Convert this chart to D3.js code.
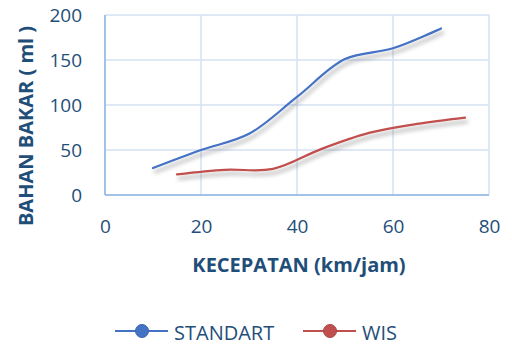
<!DOCTYPE html>
<html>
<head>
<meta charset="utf-8">
<script src="https://cdn.jsdelivr.net/npm/d3@7"></script>
<style>
  html, body { margin: 0; padding: 0; background: #fff; }
  svg { display: block; }
</style>
</head>
<body>
<div id="chart"></div>
<script>
// Fuel consumption (ml) against speed (km/h) for two configurations
const standartSpeed = [10, 20, 30, 40, 50, 60, 70];
const standartFuel  = [30, 50, 68, 109, 151, 163, 185];
const wisSpeed = [15, 25, 35, 45, 55, 65, 75];
const wisFuel  = [23, 28, 29, 51, 69, 79, 86];
const xTicks = [0, 20, 40, 60, 80];
const yTicks = [0, 50, 100, 150, 200];
const seriesNames = ["STANDART", "WIS"];
const seriesColors = ["#4472C4", "#C0504D"];
const markerStroke = ["#3A64AE", "#A94542"];

const W = 512, H = 345;
const plot = { left: 105, right: 489, top: 15, bottom: 195 };
const textColor = "#1F4E79";
const font = "'Open Sans', 'Noto Sans', sans-serif";

const svg = d3.select("#chart").append("svg")
  .attr("width", W).attr("height", H);

// soft drop shadow under the data lines
const defs = svg.append("defs");
const f = defs.append("filter").attr("id", "shadow")
  .attr("x", "-10%").attr("y", "-20%").attr("width", "130%").attr("height", "160%");
f.append("feDropShadow").attr("dx", 2).attr("dy", 4).attr("stdDeviation", 2.2)
  .attr("flood-color", "#000").attr("flood-opacity", 0.35);

const x = d3.scaleLinear().domain([0, 80]).range([plot.left, plot.right]);
const y = d3.scaleLinear().domain([0, 200]).range([plot.bottom, plot.top]);

// gridlines
const grid = svg.append("g");
grid.selectAll("line.h").data(yTicks).join("line")
  .attr("x1", plot.left).attr("x2", plot.right)
  .attr("y1", d => y(d)).attr("y2", d => y(d))
  .attr("stroke", "#D5E2F3").attr("stroke-width", 1.5);
grid.selectAll("line.v").data(xTicks).join("line")
  .attr("y1", plot.top).attr("y2", plot.bottom)
  .attr("x1", d => x(d)).attr("x2", d => x(d))
  .attr("stroke", "#D5E2F3").attr("stroke-width", 1.5);

// axis lines
svg.append("line").attr("x1", plot.left).attr("x2", plot.left)
  .attr("y1", plot.top).attr("y2", plot.bottom)
  .attr("stroke", "#8EB4E3").attr("stroke-width", 1.5);
svg.append("line").attr("x1", plot.left).attr("x2", plot.right)
  .attr("y1", plot.bottom).attr("y2", plot.bottom)
  .attr("stroke", "#8EB4E3").attr("stroke-width", 1.5);

// tick labels
const yAxis = d3.axisLeft(y).tickValues(yTicks).tickSize(0).tickPadding(23);
const gy = svg.append("g").attr("transform", `translate(${plot.left},0)`).call(yAxis);
const xAxis = d3.axisBottom(x).tickValues(xTicks).tickSize(0).tickPadding(25);
const gx = svg.append("g").attr("transform", `translate(0,${plot.bottom})`).call(xAxis);
[gy, gx].forEach(g => {
  g.select(".domain").remove();
  g.selectAll("text").attr("fill", textColor)
    .style("font-family", font).style("font-size", "19px");
});

// axis titles
svg.append("text").attr("x", 299).attr("y", 272)
  .attr("text-anchor", "middle").attr("fill", textColor)
  .style("font-family", font).style("font-weight", "bold").style("font-size", "20px")
  .text("KECEPATAN (km/jam)");
svg.append("text")
  .attr("transform", "translate(33,126) rotate(-90)")
  .attr("text-anchor", "middle").attr("fill", textColor)
  .style("font-family", font).style("font-weight", "bold").style("font-size", "20px")
  .text("BAHAN BAKAR ( ml )");

// data lines
const line = d3.line().x(d => x(d[0])).y(d => y(d[1])).curve(d3.curveCatmullRom.alpha(0.5));
const series = [
  d3.zip(standartSpeed, standartFuel),
  d3.zip(wisSpeed, wisFuel)
];
svg.append("g").selectAll("path").data(series).join("path")
  .attr("d", line).attr("fill", "none")
  .attr("stroke", (d, i) => seriesColors[i]).attr("stroke-width", 2.2)
  .attr("stroke-linecap", "round")
  .attr("filter", "url(#shadow)");

// legend
const legendX = [115, 303];
const lg = svg.append("g").selectAll("g").data(seriesNames).join("g")
  .attr("transform", (d, i) => `translate(${legendX[i]},331)`);
lg.append("line").attr("x1", 0).attr("x2", 53).attr("y1", 0).attr("y2", 0)
  .attr("stroke", (d, i) => seriesColors[i]).attr("stroke-width", 2.2);
lg.append("circle").attr("cx", 27).attr("cy", 0).attr("r", 6.5)
  .attr("fill", (d, i) => seriesColors[i])
  .attr("stroke", (d, i) => markerStroke[i]).attr("stroke-width", 1);
lg.append("text").attr("x", 59).attr("y", 9)
  .attr("fill", textColor).style("font-family", font).style("font-size", "20px")
  .text(d => d);
</script>
</body>
</html>
